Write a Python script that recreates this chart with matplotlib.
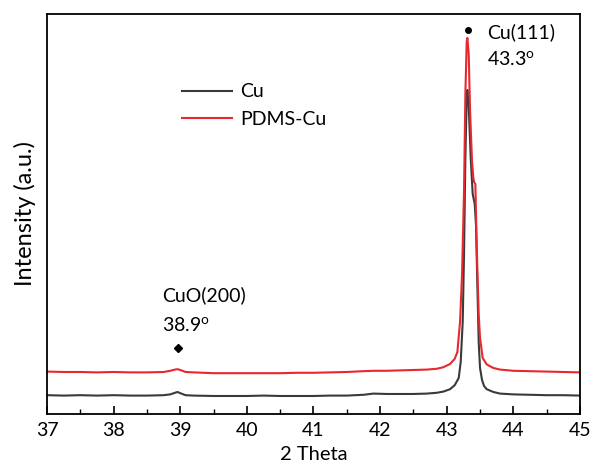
import matplotlib
matplotlib.use("Agg")
import matplotlib.pyplot as plt
from matplotlib.ticker import MultipleLocator, NullLocator

plt.rcParams['font.family'] = ['Lato', 'DejaVu Sans']
plt.rcParams['mathtext.fontset'] = 'custom'
plt.rcParams['mathtext.rm'] = 'Lato'

# ---- data (arbitrary intensity units) ----
cu_x = [37.0, 37.25, 37.5, 37.75, 38.0, 38.25, 38.5, 38.75, 38.85, 38.92, 38.96, 39.0, 39.08, 39.2,
        39.5, 39.75, 40.0, 40.25, 40.5, 40.75, 41.0, 41.25, 41.5, 41.75, 41.9, 42.1, 42.3, 42.5,
        42.7, 42.85, 42.95, 43.05, 43.12, 43.18, 43.21, 43.24, 43.26, 43.28, 43.30, 43.31, 43.33,
        43.36, 43.39, 43.42, 43.44, 43.46, 43.48, 43.50, 43.53, 43.56, 43.6, 43.7, 43.8, 44.0,
        44.25, 44.5, 44.75, 45.0]
cu_y = [47, 46, 47, 46, 47, 46, 46, 47, 49, 53, 55, 52, 47, 46,
        45, 45, 45, 46, 45, 45, 45, 46, 46, 48, 51, 50, 50, 50,
        51, 53, 56, 62, 72, 90, 130, 230, 400, 640, 790, 810, 770,
        640, 550, 525, 470, 320, 180, 115, 85, 70, 62, 55, 51, 49,
        48, 47, 47, 46]

pdms_x = [37.0, 37.25, 37.5, 37.75, 38.0, 38.25, 38.5, 38.75, 38.85, 38.92, 38.96, 39.0, 39.08, 39.2,
          39.5, 39.75, 40.0, 40.25, 40.5, 40.75, 41.0, 41.25, 41.5, 41.75, 41.9, 42.1, 42.3, 42.5,
          42.7, 42.85, 42.95, 43.05, 43.12, 43.16, 43.2, 43.23, 43.26, 43.28, 43.30, 43.31, 43.33,
          43.35, 43.38, 43.40, 43.41, 43.43, 43.45, 43.48, 43.50, 43.54, 43.6, 43.7, 43.8, 44.0,
          44.25, 44.5, 44.75, 45.0]
pdms_y = [106, 105, 105, 104, 105, 104, 104, 105, 108, 111, 112, 110, 105, 104,
          102, 102, 102, 102, 102, 103, 103, 104, 105, 107, 108, 108, 109, 110,
          111, 113, 117, 125, 138, 155, 230, 350, 560, 800, 930, 940, 900,
          760, 630, 590, 580, 575, 420, 250, 190, 140, 124, 115, 111, 108,
          107, 106, 105, 104]

cu_label = "Cu"
pdms_label = "PDMS-Cu"
x_ticks = [37, 38, 39, 40, 41, 42, 43, 44, 45]

fig = plt.figure(figsize=(5.93, 4.65), dpi=100)
ax = fig.add_axes([0.0793, 0.1097, 0.8987, 0.8603])

ax.plot(cu_x, cu_y, color='#3a3a3a', lw=1.5, label=cu_label)
ax.plot(pdms_x, pdms_y, color='#e8282e', lw=1.5, label=pdms_label)

ax.set_xlim(37, 45)
ax.set_ylim(0, 1000)
ax.set_xticks(x_ticks)
ax.xaxis.set_minor_locator(MultipleLocator(0.5))
ax.yaxis.set_major_locator(NullLocator())
ax.tick_params(axis='x', which='major', direction='in', length=6, width=1.2, labelsize=14, pad=6)
ax.tick_params(axis='x', which='minor', direction='in', length=3.5, width=1.0)
for s in ax.spines.values():
    s.set_linewidth(1.3)

ax.set_xlabel("2 Theta", fontsize=14.5, labelpad=5)
ax.set_ylabel("Intensity (a.u.)", fontsize=17, labelpad=8)

ax.legend(loc='upper left', bbox_to_anchor=(0.22, 0.87), frameon=False, fontsize=14,
          handlelength=2.6, handletextpad=0.4, labelspacing=0.55)

# annotations
ax.plot([43.32], [960], 'o', color='black', ms=4)
ax.text(43.6, 955, "Cu(111)", fontsize=14, va='center', ha='left')
ax.text(43.6, 885, r"43.3$^\mathrm{o}$", fontsize=14, va='center', ha='left')

ax.plot([38.97], [165], 'D', color='black', ms=4.5)
ax.text(38.73, 297, "CuO(200)", fontsize=14, va='center', ha='left')
ax.text(38.73, 222, r"38.9$^\mathrm{o}$", fontsize=14, va='center', ha='left')

fig.savefig("out.png", dpi=100)
